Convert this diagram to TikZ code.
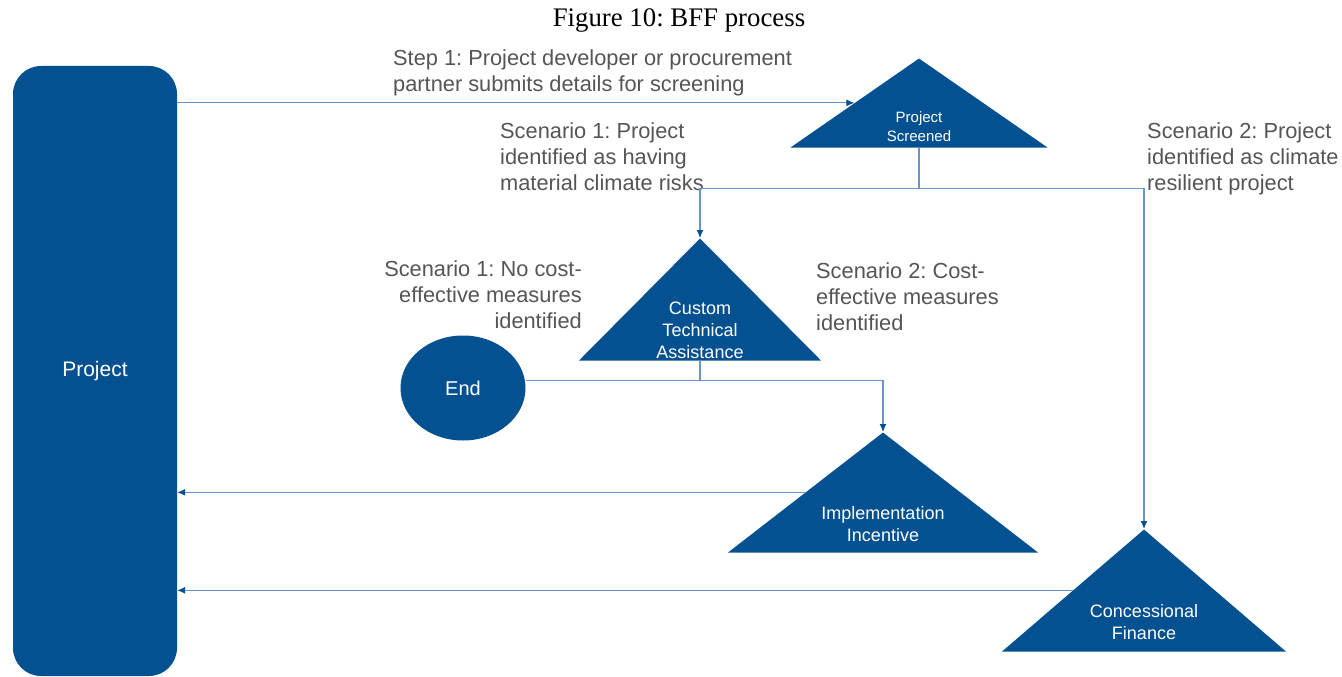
\documentclass[tikz,border=0pt]{standalone}
\usepackage{fontspec}
\setmainfont{Liberation Serif}
\setsansfont{Liberation Sans}
\usetikzlibrary{shapes.geometric,arrows.meta}
\definecolor{bffblue}{RGB}{4,81,145}
\definecolor{bffline}{RGB}{104,148,203}
\definecolor{bffgrey}{RGB}{85,85,85}
\frenchspacing

\begin{document}
\begin{tikzpicture}[x=1pt, y=-1pt,
  stage/.style={isosceles triangle, isosceles triangle stretches, shape border rotate=90,
    fill=bffblue, inner sep=0pt, anchor=apex},
  stagetext/.style={text=white, align=center, inner sep=0pt, font=\sffamily\fontsize{18}{22}\selectfont},
  note/.style={text=bffgrey, inner sep=0pt, align=left, font=\sffamily\fontsize{21.8}{26}\selectfont},
  link/.style={draw=bffline, line width=1.1pt},
  flow/.style={link, -{Latex[length=8pt,width=7pt,color=bffblue]}}]
\useasboundingbox (0,0) rectangle (1342,677);

% title
\node[font=\fontsize{26.8}{30}\selectfont] (title) at (679,20) {Figure 10: BFF process};

% project column
\node[fill=bffblue, rounded corners=28pt, minimum width=164pt, minimum height=610pt,
  text=white, font=\sffamily\fontsize{21}{25}\selectfont] (project) at (95,371) {Project};

% stages (triangles) and the end point
\node[stage, minimum width=257pt, minimum height=89pt] (ps) at (919,58) {};
\node[stage, minimum width=242pt, minimum height=122pt] (cta) at (700,238) {};
\node[stage, minimum width=310pt, minimum height=120pt] (ii) at (883,432) {};
\node[stage, minimum width=284pt, minimum height=122pt] (cf) at (1144,529) {};
\node[ellipse, fill=bffblue, minimum width=125pt, minimum height=105pt, text=white,
  font=\sffamily\fontsize{20}{24}\selectfont] (endnode) at (463,388) {End};

\node[stagetext, font=\sffamily\fontsize{15}{19}\selectfont] (pstext) at (919,127) {Project\\Screened};
\node[stagetext] (ctatext) at (700,330) {Custom\\Technical\\Assistance};
\node[stagetext] (iitext) at (883,524) {Implementation\\Incentive};
\node[stagetext] (cftext) at (1144,622) {Concessional\\Finance};

% step and scenario notes
\node[note, anchor=north west] (step1) at (393,50) {Step 1: Project developer or procurement\\partner submits details for screening};
\node[note, anchor=north west] (risky) at (500,123) {Scenario 1: Project\\identified as having\\material climate risks};
\node[note, anchor=north west] (resilient) at (1147,123) {Scenario 2: Project\\identified as climate\\resilient project};
\node[note, anchor=north east, align=right] (nomeasures) at (582,261) {Scenario 1: No cost-\\effective measures\\identified};
\node[note, anchor=north west] (measures) at (816,263) {Scenario 2: Cost-\\effective measures\\identified};

% connectors
\draw[flow] (project.east |- ps.left side) -- (ps.left side);
\draw[link] (ps.lower side) -- ++(0,41) coordinate (fork);
\draw[flow] (fork) -| (cta.apex);
\draw[flow] (fork) -| (cf.apex);
\draw[link] (cta.lower side) -- ++(0,20) coordinate (split);
\draw[link] (split) -- (split -| endnode.east);
\draw[flow] (split) -| (ii.apex);
\draw[flow] (ii.left side) -- (ii.left side -| project.east);
\draw[flow] (cf.left side) -- (cf.left side -| project.east);
\end{tikzpicture}
\end{document}
